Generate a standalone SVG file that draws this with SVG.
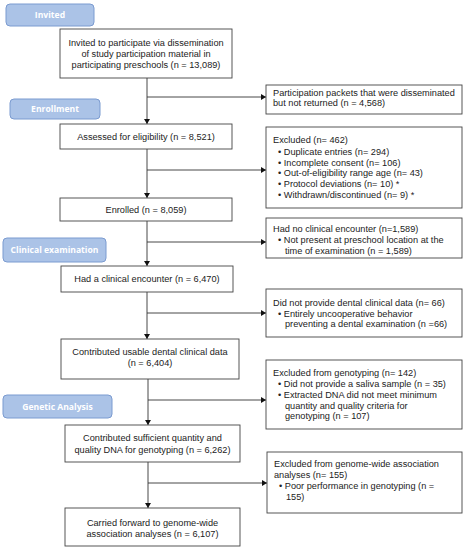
<svg xmlns="http://www.w3.org/2000/svg" width="467" height="550" viewBox="0 0 467 550">
<defs>
<marker id="ah" markerWidth="6" markerHeight="6" refX="5" refY="3" orient="auto" markerUnits="userSpaceOnUse">
<path d="M0,0 L5,3 L0,6 Z" fill="#111"/>
</marker>
<style>
.box{fill:#fff;stroke:#444;stroke-width:0.9}
.lab{fill:#abc3e7;stroke:#7b9bd0;stroke-width:1}
.lt{font-family:"Open Sans","Liberation Sans",sans-serif;font-weight:bold;font-size:8.6px;fill:#fff;text-anchor:middle}
.t{font-family:"Liberation Sans",Arial,sans-serif;font-size:9.2px;fill:#222}
.c{text-anchor:middle}
.ln{stroke:#333;stroke-width:0.9;fill:none}
</style>
</defs>
<rect width="467" height="550" fill="#fff"/>
<g id="label-invited"><rect class="lab" x="6" y="4" width="88" height="22" rx="4"/><text class="lt" x="50" y="18">Invited</text></g>
<g id="label-enrollment"><rect class="lab" x="10" y="99" width="90" height="20" rx="4"/><text class="lt" x="55" y="112">Enrollment</text></g>
<g id="label-clinical"><rect class="lab" x="3" y="238" width="103" height="24" rx="4"/><text class="lt" x="54.5" y="253">Clinical examination</text></g>
<g id="label-genetic"><rect class="lab" x="3" y="395" width="109" height="23" rx="4"/><text class="lt" x="57.5" y="409.5">Genetic Analysis</text></g>

<g id="connectors">
<line class="ln" x1="147" y1="78" x2="147" y2="124" marker-end="url(#ah)"/>
<line class="ln" x1="147" y1="97" x2="266" y2="97" marker-end="url(#ah)"/>
<line class="ln" x1="147" y1="149" x2="147" y2="198" marker-end="url(#ah)"/>
<line class="ln" x1="147" y1="170" x2="266" y2="170" marker-end="url(#ah)"/>
<line class="ln" x1="147" y1="221" x2="147" y2="266" marker-end="url(#ah)"/>
<line class="ln" x1="147" y1="242" x2="266" y2="242" marker-end="url(#ah)"/>
<line class="ln" x1="147" y1="292" x2="147" y2="339" marker-end="url(#ah)"/>
<line class="ln" x1="147" y1="313" x2="266" y2="313" marker-end="url(#ah)"/>
<line class="ln" x1="148" y1="379" x2="148" y2="425" marker-end="url(#ah)"/>
<line class="ln" x1="148" y1="400" x2="266" y2="400" marker-end="url(#ah)"/>
<line class="ln" x1="148" y1="462" x2="148" y2="508" marker-end="url(#ah)"/>
<line class="ln" x1="148" y1="483" x2="267" y2="483" marker-end="url(#ah)"/>
</g>

<g id="n-invited"><rect class="box" x="60" y="29" width="172" height="49"/>
<text class="t c" x="146" y="46">Invited to participate via dissemination</text>
<text class="t c" x="146" y="57">of study participation material in</text>
<text class="t c" x="146" y="67.5">participating preschools (n = 13,089)</text></g>

<g id="n-packets"><rect class="box" x="266" y="85" width="196" height="29"/>
<text class="t" x="273" y="95.5">Participation packets that were disseminated</text>
<text class="t" x="273" y="106">but not returned (n = 4,568)</text></g>

<g id="n-assessed"><rect class="box" x="60" y="124" width="172" height="25"/>
<text class="t c" x="146" y="140">Assessed for eligibility (n = 8,521)</text></g>

<g id="n-excluded"><rect class="box" x="266" y="127" width="196" height="81"/>
<text class="t" x="273" y="143">Excluded (n= 462)</text>
<text class="t" x="278" y="154.5">• Duplicate entries (n= 294)</text>
<text class="t" x="278" y="165.5">• Incomplete consent (n= 106)</text>
<text class="t" x="278" y="176">• Out-of-eligibility range age (n= 43)</text>
<text class="t" x="278" y="187">• Protocol deviations (n= 10) *</text>
<text class="t" x="278" y="197.5">• Withdrawn/discontinued (n= 9) *</text></g>

<g id="n-enrolled"><rect class="box" x="60" y="198" width="172" height="23"/>
<text class="t c" x="146" y="213">Enrolled (n = 8,059)</text></g>

<g id="n-noencounter"><rect class="box" x="266" y="218" width="196" height="40"/>
<text class="t" x="273" y="232">Had no clinical encounter (n=1,589)</text>
<text class="t" x="278" y="243">• Not present at preschool location at the</text>
<text class="t" x="285" y="254">time of examination (n = 1,589)</text></g>

<g id="n-encounter"><rect class="box" x="61" y="266" width="172" height="26"/>
<text class="t c" x="147" y="282">Had a clinical encounter (n = 6,470)</text></g>

<g id="n-nodental"><rect class="box" x="266" y="289" width="196" height="48"/>
<text class="t" x="273" y="306">Did not provide dental clinical data (n= 66)</text>
<text class="t" x="278" y="316.5">• Entirely uncooperative behavior</text>
<text class="t" x="285" y="327">preventing a dental examination (n =66)</text></g>

<g id="n-dental"><rect class="box" x="61" y="339" width="178" height="40"/>
<text class="t c" x="150" y="355">Contributed usable dental clinical data</text>
<text class="t c" x="150" y="365.5">(n = 6,404)</text></g>

<g id="n-exgeno"><rect class="box" x="266" y="360" width="196" height="69"/>
<text class="t" x="273" y="376">Excluded from genotyping (n= 142)</text>
<text class="t" x="278" y="387">• Did not provide a saliva sample (n = 35)</text>
<text class="t" x="278" y="398">• Extracted DNA did not meet minimum</text>
<text class="t" x="285" y="408.5">quantity and quality criteria for</text>
<text class="t" x="285" y="419">genotyping (n = 107)</text></g>

<g id="n-dna"><rect class="box" x="65" y="425" width="175" height="37"/>
<text class="t c" x="152.5" y="441">Contributed sufficient quantity and</text>
<text class="t c" x="152.5" y="453">quality DNA for genotyping (n = 6,262)</text></g>

<g id="n-exgwas"><rect class="box" x="267" y="452" width="195" height="61"/>
<text class="t" x="274" y="467">Excluded from genome-wide association</text>
<text class="t" x="274" y="478">analyses (n= 155)</text>
<text class="t" x="279" y="489">• Poor performance in genotyping (n =</text>
<text class="t" x="286" y="500">155)</text></g>

<g id="n-final"><rect class="box" x="65" y="508" width="175" height="38"/>
<text class="t c" x="152.5" y="526">Carried forward to genome-wide</text>
<text class="t c" x="152.5" y="536.5">association analyses (n = 6,107)</text></g>
</svg>
